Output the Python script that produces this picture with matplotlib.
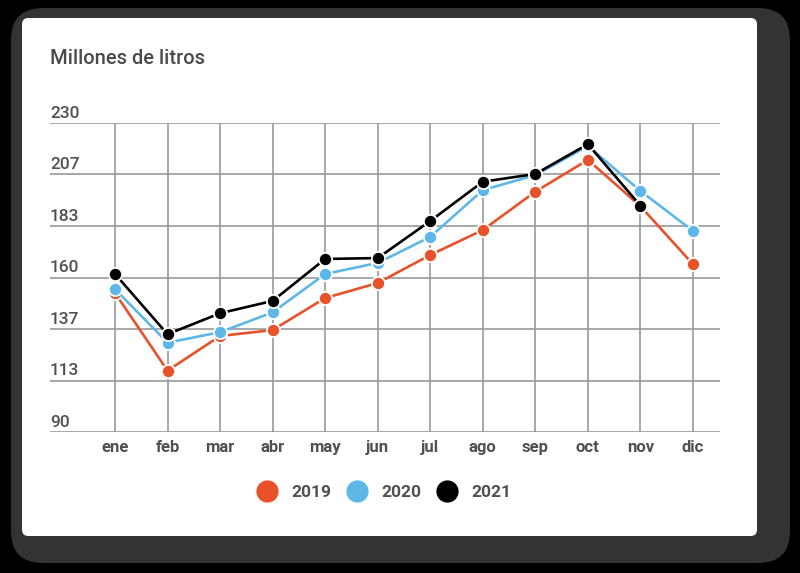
import matplotlib.pyplot as plt
from matplotlib.patches import FancyBboxPatch
from matplotlib.lines import Line2D
import matplotlib.transforms as mtransforms

months = ['ene', 'feb', 'mar', 'abr', 'may', 'jun', 'jul', 'ago', 'sep', 'oct', 'nov', 'dic']
v2019 = [153.0, 117.8, 133.5, 136.2, 150.7, 157.5, 170.2, 181.5, 198.9, 213.3, 192.3, 166.0]
v2020 = [154.7, 130.5, 135.2, 144.2, 161.6, 166.6, 178.4, 199.6, 206.4, 219.6, 199.2, 181.1]
v2021 = [161.6, 134.3, 143.8, 149.4, 168.4, 168.8, 185.6, 203.4, 206.9, 220.4, 192.5]
yticks = [90, 113.33, 136.67, 160, 183.33, 206.67, 230]
ylabels = ['90', '113', '137', '160', '183', '207', '230']

series = [('2019', v2019, '#e8522a'), ('2020', v2020, '#5db8e8'), ('2021', v2021, '#000000')]
text_col = '#4a4a4a'
plt.rcParams['font.family'] = ['Roboto', 'DejaVu Sans']

fig = plt.figure(figsize=(8, 5.73), dpi=100)
fig.patch.set_facecolor('black')

# dark frame and white card
W, H = 800, 573
frame = FancyBboxPatch((11 / W, (H - 563) / H), 779 / W, 555 / H,
                       boxstyle='round,pad=0,rounding_size=0.04',
                       transform=fig.transFigure, facecolor='#333333', edgecolor='none',
                       mutation_aspect=W / H, zorder=-2)
fig.patches.append(frame)
card = FancyBboxPatch((22 / W, (H - 536) / H), 735 / W, 518 / H,
                      boxstyle='round,pad=0,rounding_size=0.008',
                      transform=fig.transFigure, facecolor='white', edgecolor='none',
                      mutation_aspect=W / H, zorder=-1)
fig.patches.append(card)

ax = fig.add_axes([50 / W, (H - 432) / H, 670 / W, 309 / H])
ax.set_facecolor('none')
ax.set_xlim(-1.237, 11.514)
ax.set_ylim(90, 230)
for s in ax.spines.values():
    s.set_visible(False)

for t in yticks:
    ax.axhline(t, color='#9a9a9a', lw=1.2, zorder=1)
for i in range(len(months)):
    ax.axvline(i, color='#9a9a9a', lw=1.2, zorder=1)

for name, vals, col in series:
    ax.plot(range(len(vals)), vals, color=col, lw=1.9, marker='o', ms=9.5,
            markerfacecolor=col, markeredgecolor='white', markeredgewidth=1.3,
            zorder=3, clip_on=False)

ax.set_xticks(range(len(months)))
ax.set_xticklabels(months, fontsize=12, color='#505050', fontweight='bold')
ax.tick_params(axis='x', length=0, pad=6)
ax.set_yticks([])

trans = mtransforms.blended_transform_factory(ax.transAxes, ax.transData)
for t, lab in zip(yticks, ylabels):
    ax.annotate(lab, xy=(0, t), xycoords=trans, xytext=(0, 1.5), textcoords='offset points',
                ha='left', va='bottom', fontsize=12.5, color='#505050', fontweight='medium')

fig.text(50 / W, (H - 58) / H, 'Millones de litros', ha='left', va='center',
         fontsize=14.5, color=text_col, fontweight='medium')

handles = [Line2D([], [], ls='none', marker='o', ms=15, color=c) for _, _, c in series]
leg = fig.legend(handles, [n for n, _, _ in series], loc='center', ncol=3,
                 bbox_to_anchor=(384 / W, (H - 492) / H), frameon=False,
                 handletextpad=0.8, columnspacing=0.9, handlelength=1.2,
                 prop={'size': 12.5, 'weight': 'bold'})
for t in leg.get_texts():
    t.set_color('#505050')

fig.savefig('out.png', dpi=100, facecolor=fig.get_facecolor())
